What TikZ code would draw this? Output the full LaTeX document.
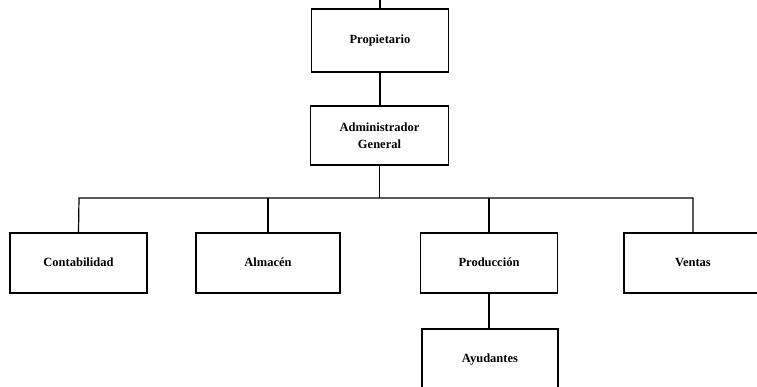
\documentclass[tikz,border=0pt]{standalone}
\usepackage{fontspec}
\setmainfont{Liberation Serif}
\begin{document}
\begin{tikzpicture}[x=1pt,y=1pt,
  orgbox/.style={draw=black,line width=1.2pt,fill=white,minimum width=137pt,minimum height=60pt,inner sep=0pt,align=center,font=\fontsize{12.5}{17}\selectfont\bfseries},
  onebox/.style={orgbox,text height=8.5pt,text depth=2.5pt},
  link/.style={draw=black,line width=1.2pt}]
\useasboundingbox (0,0) rectangle (757,386);
\clip (0,0) rectangle (757,386);
\fill[white] (0,0) rectangle (757,386);
\node[onebox,minimum height=63pt] (prop) at (380,345.5) {Propietario};
\node[orgbox,minimum width=138pt,minimum height=59pt] (adm) at (379.5,250.5) {Administrador\\General};
\node[onebox] (cont) at (78.5,123) {Contabilidad};
\node[onebox,minimum width=144pt] (alm) at (268,123) {Almacén};
\node[onebox] (prod) at (489,123) {Producción};
\node[onebox,minimum width=138pt] (vent) at (693,123) {Ventas};
\node[onebox,minimum width=136pt] (ayu) at (490,27) {Ayudantes};
\coordinate (top) at (380,390);
\coordinate (busL) at (79,188);
\coordinate (busR) at (693,188);
\draw[link] (prop.north) -- (top);
\draw[link] (prop.south) -- (prop.south |- adm.north);
\draw[link] (adm.south) -- (adm.south |- busL);
\draw[link] (cont.north) -- (busL) -- (busR) -- (vent.north);
\draw[link] (alm.north) -- (alm.north |- busL);
\draw[link] (prod.north) -- (prod.north |- busL);
\draw[link] (prod.south) -- (prod.south |- ayu.north);
\end{tikzpicture}
\end{document}
